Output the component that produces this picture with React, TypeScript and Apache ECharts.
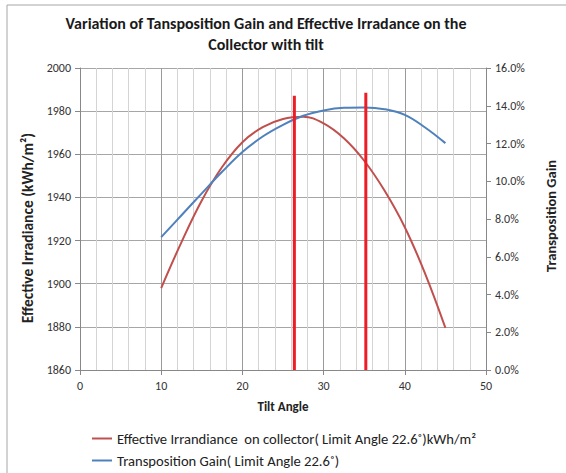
import React, { useEffect, useRef } from "react";
import * as echarts from "echarts";

const TITLE = "Variation of Tansposition Gain and Effective Irradance on the\nCollector with tilt";
const tiltAngles = [10, 12.5, 15, 17.5, 20, 22.5, 25, 27.5, 30, 32.5, 35, 37.5, 40, 42.5, 45];
const effectiveIrradiance = [
  1898, 1919.3, 1938.6, 1954.1, 1965.6, 1972.6, 1976.4, 1977.4, 1974.3, 1967.4, 1957, 1943.2, 1926.2, 1904.7, 1879.5,
];
const transpositionGain = [
  7.04, 8.2, 9.36, 10.5, 11.55, 12.37, 12.99, 13.47, 13.75, 13.89, 13.91, 13.82, 13.52, 12.85, 12.02,
];
const limitLineA = [[26.4, 1860], [26.4, 1987.1]];
const limitLineB = [[35.2, 1860], [35.2, 1988.5]];
const seriesNames = [
  "Effective Irrandiance  on collector( Limit Angle 22.6˚)kWh/m²",
  "Transposition Gain( Limit Angle 22.6˚)",
];
const seriesColors = ["#c0504d", "#4f81bd"];

const FONT = "Carlito, 'Liberation Sans Narrow', 'Liberation Sans', sans-serif";

export default function App() {
  const ref = useRef<HTMLDivElement>(null);
  useEffect(() => {
    if (!ref.current) return;
    const chart = echarts.init(ref.current, undefined, { renderer: "svg" });
    const axisLabel = { color: "#333", fontSize: 12, fontFamily: FONT };
    const nameStyle = { color: "#222", fontSize: 15.5, fontWeight: "bold" as const, fontFamily: FONT };
    const legendBase = {
      left: 87,
      itemWidth: 20,
      itemHeight: 2,
      icon: "rect",
      textStyle: { fontSize: 14.6, color: "#222", fontFamily: FONT },
    };
    chart.setOption({
      animation: false,
      backgroundColor: "#fff",
      title: {
        text: TITLE,
        left: 266,
        top: 13,
        padding: 0,
        textAlign: "center",
        textStyle: { fontSize: 16, fontWeight: "bold", color: "#1a1a1a", fontFamily: FONT, lineHeight: 21 },
      },
      graphic: [
        {
          type: "rect",
          shape: { x: 7, y: 5, width: 700, height: 700 },
          style: { fill: "none", stroke: "#a6a6a6", lineWidth: 1 },
          silent: true,
        },
      ],
      legend: [
        { ...legendBase, data: [seriesNames[0]], top: 426 },
        { ...legendBase, data: [seriesNames[1]], top: 448 },
      ],
      grid: { left: 80, right: 76, top: 68, bottom: 103 },
      xAxis: {
        type: "value",
        min: 0,
        max: 50,
        interval: 10,
        name: "Tilt Angle",
        nameLocation: "middle",
        nameGap: 30,
        nameTextStyle: { ...nameStyle, fontSize: 13 },
        axisLine: { lineStyle: { color: "#888" } },
        axisTick: { show: true, length: 5, lineStyle: { color: "#888" } },
        axisLabel: { ...axisLabel, margin: 10 },
        splitLine: { show: true, lineStyle: { color: "#9a9a9a" } },
        minorTick: { show: false, splitNumber: 5 },
        minorSplitLine: { show: true, lineStyle: { color: "#d4d4d4" } },
      },
      yAxis: [
        {
          type: "value",
          min: 1860,
          max: 2000,
          interval: 20,
          name: "Effective Irradiance (kWh/m²)",
          nameLocation: "middle",
          nameRotate: 90,
          nameGap: 45,
          nameTextStyle: { ...nameStyle, padding: [0, 18, 0, 0] },
          axisLine: { show: true, lineStyle: { color: "#888" } },
          axisTick: { show: true, length: 5, lineStyle: { color: "#888" } },
          axisLabel: { ...axisLabel, margin: 9, formatter: (v: number) => String(v) },
          splitLine: { show: true, lineStyle: { color: "#a6a6a6" } },
        },
        {
          type: "value",
          min: 0,
          max: 16,
          interval: 2,
          position: "right",
          name: "Transposition Gain",
          nameLocation: "middle",
          nameRotate: 90,
          nameGap: 57,
          nameTextStyle: { ...nameStyle, fontSize: 14.5, padding: [0, 0, 0, 6] },
          axisLine: { show: true, lineStyle: { color: "#888" } },
          axisTick: { show: true, length: 5, lineStyle: { color: "#888" } },
          axisLabel: { ...axisLabel, margin: 9, formatter: (v: number) => v.toFixed(1) + "%" },
          splitLine: { show: false },
        },
      ],
      series: [
        {
          name: seriesNames[0],
          type: "line",
          yAxisIndex: 0,
          smooth: 0.4,
          symbol: "none",
          data: tiltAngles.map((a, i) => [a, effectiveIrradiance[i]]),
          lineStyle: { color: seriesColors[0], width: 2 },
          itemStyle: { color: seriesColors[0] },
          z: 3,
        },
        {
          name: seriesNames[1],
          type: "line",
          yAxisIndex: 1,
          smooth: 0.4,
          symbol: "none",
          data: tiltAngles.map((a, i) => [a, transpositionGain[i]]),
          lineStyle: { color: seriesColors[1], width: 2 },
          itemStyle: { color: seriesColors[1] },
          z: 3,
        },
        {
          name: "limitA",
          type: "line",
          yAxisIndex: 0,
          symbol: "none",
          silent: true,
          data: limitLineA,
          lineStyle: { color: "#ee1c25", width: 3 },
          z: 4,
        },
        {
          name: "limitB",
          type: "line",
          yAxisIndex: 0,
          symbol: "none",
          silent: true,
          data: limitLineB,
          lineStyle: { color: "#ee1c25", width: 3 },
          z: 4,
        },
      ],
    });
    return () => chart.dispose();
  }, []);
  return (
    <div
      ref={ref}
      style={{ position: "fixed", left: 0, top: 0, width: 566, height: 473, background: "#fff" }}
    />
  );
}
